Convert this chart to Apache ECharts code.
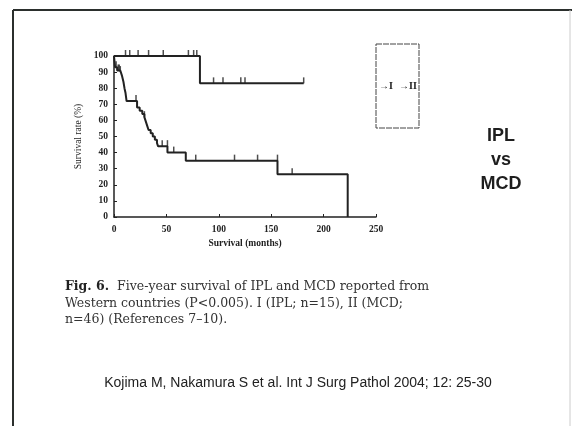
<!DOCTYPE html>
<html>
<head>
<meta charset="utf-8">
<script src="https://cdn.jsdelivr.net/npm/echarts@6/dist/echarts.min.js"></script>
<style>
  html, body { margin: 0; padding: 0; background: #fff; }
  #chart { width: 572px; height: 426px; }
</style>
</head>
<body>
<div id="chart"></div>
<script>
// Kaplan-Meier steps [month, survival %]
var iplSteps = [[0, 100], [82, 83], [181, 83]];
var mcdSteps = [[0, 100], [1, 93], [3, 91], [6, 90], [7.5, 88], [9, 84], [10, 80], [11, 77],
  [12, 72], [22, 68], [24.5, 66], [27, 64], [29, 62], [30, 60], [31, 58], [32, 56], [33, 54],
  [35, 52], [37, 50], [39, 48], [41, 46], [42, 44], [51, 40], [68.5, 35], [156, 26.5], [223, 0]];

// censored observations
var iplCensor = [[11, 100], [15, 100], [23, 100], [33, 100], [47, 100], [71, 100], [76, 100],
  [79, 100], [95, 83], [104, 83], [121, 83], [125, 83], [181, 83]];
var mcdCensor = [[2, 93], [4, 91], [5, 91], [6, 90], [21, 72], [29, 62], [46, 44], [51, 44],
  [57, 40], [78, 35], [115, 35], [137, 35], [156, 35], [170, 26.5]];

var xTicks = [0, 50, 100, 150, 200, 250];
var yTicks = [0, 10, 20, 30, 40, 50, 60, 70, 80, 90, 100];

var captionLines = [
  ['Fig. 6.', '  Five-year survival of IPL and MCD reported from'],
  ['', 'Western countries (P<0.005). I (IPL; n=15), II (MCD;'],
  ['', 'n=46) (References 7\u201310).']
];
var sideText = ['IPL', 'vs', 'MCD'];
var citation = 'Kojima M, Nakamura S et al. Int J Surg Pathol 2004; 12: 25-30';

var ink = '#222';
var serif = '"Liberation Serif", "DejaVu Serif", serif';
var wideSerif = '"DejaVu Serif", serif';
var sans = '"Liberation Sans", Arial, sans-serif';

var myChart = echarts.init(document.getElementById('chart'));

var tickLabel = {
  color: ink,
  fontFamily: serif,
  fontSize: 9.5,
  fontWeight: 'bold'
};

var censorSeries = function (data) {
  return {
    type: 'scatter',
    data: data,
    symbol: 'rect',
    symbolSize: [1.5, 6],
    symbolOffset: [0, -3],
    itemStyle: { color: ink },
    silent: true,
    z: 3
  };
};

var graphics = [
  // slide frame
  { type: 'line', shape: { x1: 13, y1: 10, x2: 572, y2: 10 }, style: { stroke: '#2b2f2d', lineWidth: 2 } },
  { type: 'line', shape: { x1: 13, y1: 10, x2: 13, y2: 426 }, style: { stroke: '#2b2f2d', lineWidth: 2 } },
  { type: 'line', shape: { x1: 570, y1: 10, x2: 570, y2: 426 }, style: { stroke: '#ccc', lineWidth: 1 } },
  // legend box
  { type: 'rect', shape: { x: 376, y: 44, width: 43, height: 84 },
    style: { fill: 'none', stroke: '#444', lineWidth: 1, lineDash: [6, 1] } },
  { type: 'text', x: 379, y: 86, style: { text: '\u2192I', fill: ink, font: 'bold 10px ' + serif, textVerticalAlign: 'middle' } },
  { type: 'text', x: 399, y: 86, style: { text: '\u2192II', fill: ink, font: 'bold 10px ' + serif, textVerticalAlign: 'middle' } },
  // citation
  { type: 'text', x: 298, y: 383, style: { text: citation, fill: '#222', font: '14px ' + sans, textAlign: 'center', textVerticalAlign: 'middle' } }
];

sideText.forEach(function (t, i) {
  graphics.push({
    type: 'text', x: 501, y: 136 + i * 24,
    style: { text: t, fill: '#1e1e1e', font: 'bold 18px ' + sans, textAlign: 'center', textVerticalAlign: 'middle' }
  });
});

captionLines.forEach(function (line, i) {
  graphics.push({
    type: 'text', x: 65, y: 287 + i * 16.5,
    style: {
      text: (line[0] ? '{b|' + line[0] + '}' : '') + '{n|' + line[1] + '}',
      textVerticalAlign: 'middle',
      rich: {
        b: { font: 'bold 12.5px ' + wideSerif, fill: '#222' },
        n: { font: '12.5px ' + wideSerif, fill: '#333' }
      }
    }
  });
});

var option = {
  backgroundColor: '#fff',
  animation: false,
  grid: { left: 114, right: 196, top: 56, bottom: 209 },
  xAxis: {
    type: 'value',
    min: xTicks[0],
    max: xTicks[xTicks.length - 1],
    interval: 50,
    name: 'Survival (months)',
    nameLocation: 'middle',
    nameGap: 22,
    nameTextStyle: { color: ink, fontFamily: serif, fontSize: 9.5, fontWeight: 'bold' },
    axisLine: { lineStyle: { color: ink, width: 1.5 } },
    axisTick: { show: true, inside: true, length: 3, lineStyle: { color: ink } },
    axisLabel: tickLabel,
    splitLine: { show: false }
  },
  yAxis: {
    type: 'value',
    min: yTicks[0],
    max: yTicks[yTicks.length - 1],
    interval: 10,
    name: 'Survival rate (%)',
    nameLocation: 'middle',
    nameGap: 31,
    nameTextStyle: { color: ink, fontFamily: serif, fontSize: 9.5 },
    axisLine: { show: true, lineStyle: { color: ink, width: 1.5 } },
    axisTick: { show: true, inside: true, length: 3, lineStyle: { color: ink } },
    axisLabel: Object.assign({}, tickLabel, { margin: 6 }),
    splitLine: { show: false }
  },
  series: [
    {
      name: 'I (IPL)',
      type: 'line',
      step: 'end',
      data: iplSteps,
      showSymbol: false,
      lineStyle: { color: ink, width: 2 },
      silent: true,
      z: 2
    },
    {
      name: 'II (MCD)',
      type: 'line',
      step: 'end',
      data: mcdSteps,
      showSymbol: false,
      lineStyle: { color: ink, width: 2 },
      silent: true,
      z: 2
    },
    censorSeries(iplCensor),
    censorSeries(mcdCensor)
  ],
  graphic: graphics
};

myChart.setOption(option);
</script>
</body>
</html>
